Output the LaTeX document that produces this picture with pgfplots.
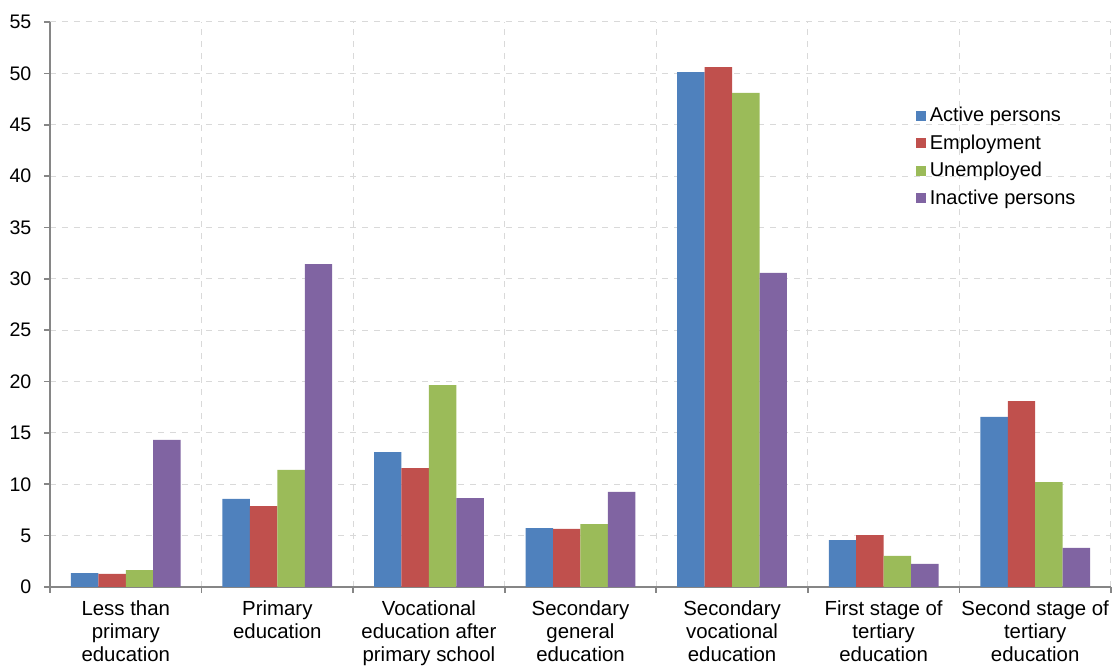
\documentclass[border=0pt]{standalone}
\usepackage{pgfplots}
\pgfplotsset{compat=1.18}
\usepackage{fontspec}
\setmainfont{Liberation Sans}
\definecolor{cA}{HTML}{4F81BD}
\definecolor{cB}{HTML}{C0504D}
\definecolor{cC}{HTML}{9BBB59}
\definecolor{cD}{HTML}{8064A2}
\definecolor{gridc}{HTML}{D9D9D9}
\definecolor{axc}{HTML}{868686}
\begin{document}
\begin{tikzpicture}
\path[use as bounding box] (-25pt,-40pt) rectangle (531pt,293.5pt);
\begin{axis}[
  at={(0,0)}, anchor=south west,
  scale only axis, width=530.5pt, height=282.5pt,
  ybar=0pt, bar width=0.181,
  xmin=-0.5, xmax=6.5, ymin=0, ymax=55,
  ytick={0,5,...,55},
  xtick={0,...,6},
  xticklabels={{Less than\\primary\\education}, {Primary\\education}, {Vocational\\education after\\primary school}, {Secondary\\general\\education}, {Secondary\\vocational\\education}, {First stage of\\tertiary\\education}, {Second stage of\\tertiary\\education}},
  minor xtick={-0.5,0.5,...,6.5},
  axis x line*=bottom, axis y line*=left,
  axis line style={-, draw=axc, line width=0.8pt},
  ymajorgrids, xminorgrids,
  major grid style={gridc, dashed, line width=0.5pt},
  minor grid style={gridc, dashed, line width=0.5pt},
  tick align=outside,
  major x tick style={draw=none},
  minor x tick style={draw=axc, line width=0.8pt},
  minor tick length=2.8pt,
  major tick length=2.8pt,
  y tick style={draw=axc, line width=0.8pt},
  /pgf/number format/assume math mode=true,
  yticklabel style={font=\fontsize{9.8}{11.75}\selectfont, xshift=-3pt},
  xticklabel style={font=\fontsize{10.2}{11.6}\selectfont, align=center, yshift=-0.3pt},
  legend style={at={(0.81,0.864)}, anchor=north west, draw=none, fill=none,
    font=\fontsize{10}{11.75}\selectfont, row sep=1pt,
    /tikz/every even column/.append style={column sep=0pt}},
  legend cell align=left,
  legend image code/.code={\fill[#1] (0pt,-2.5pt) rectangle (5pt,2.5pt);},
]
\addplot[fill=cA, draw=none] coordinates {(0,1.36) (1,8.57) (2,13.14) (3,5.74) (4,50.13) (5,4.57) (6,16.55)};
\addplot[fill=cB, draw=none] coordinates {(0,1.27) (1,7.88) (2,11.58) (3,5.65) (4,50.6) (5,5.06) (6,18.1)};
\addplot[fill=cC, draw=none] coordinates {(0,1.65) (1,11.39) (2,19.66) (3,6.13) (4,48.09) (5,3.02) (6,10.22)};
\addplot[fill=cD, draw=none] coordinates {(0,14.31) (1,31.44) (2,8.66) (3,9.25) (4,30.57) (5,2.24) (6,3.8)};
\legend{Active persons, Employment, Unemployed, Inactive persons}
\end{axis}
\end{tikzpicture}
\end{document}
